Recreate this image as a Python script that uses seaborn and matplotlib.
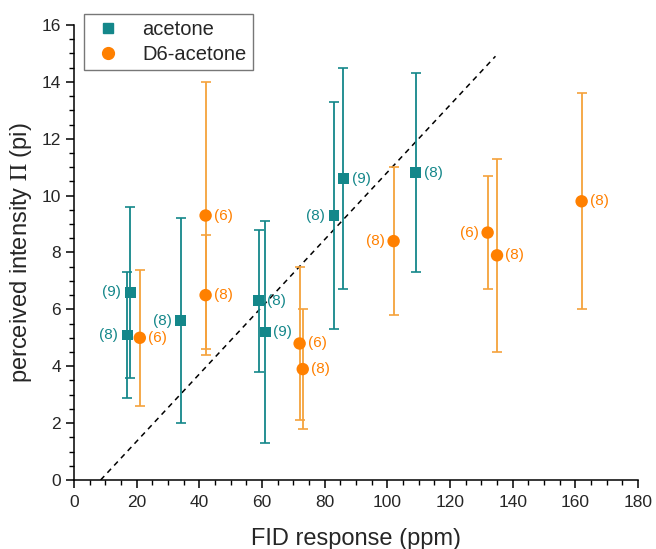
import matplotlib
matplotlib.use("Agg")
import matplotlib.pyplot as plt
from matplotlib.ticker import MultipleLocator
from matplotlib.lines import Line2D
import seaborn as sns
import pandas as pd

# ---- data ----
acetone_x = [17, 18, 34, 59, 61, 83, 86, 109]
acetone_y = [5.1, 6.6, 5.6, 6.3, 5.2, 9.3, 10.6, 10.8]
acetone_lo = [2.9, 3.6, 2.0, 3.8, 1.3, 5.3, 6.7, 7.3]
acetone_hi = [7.3, 9.6, 9.2, 8.8, 9.1, 13.3, 14.5, 14.3]
acetone_n = ["(8)", "(9)", "(8)", "(8)", "(9)", "(8)", "(9)", "(8)"]
acetone_side = ["L", "L", "L", "R", "R", "L", "R", "R"]

d6_x = [21, 42, 42, 72, 73, 102, 132, 135, 162]
d6_y = [5.0, 9.3, 6.5, 4.8, 3.9, 8.4, 8.7, 7.9, 9.8]
d6_lo = [2.6, 4.6, 4.4, 2.1, 1.8, 5.8, 6.7, 4.5, 6.0]
d6_hi = [7.4, 14.0, 8.6, 7.5, 6.0, 11.0, 10.7, 11.3, 13.6]
d6_n = ["(6)", "(6)", "(8)", "(6)", "(8)", "(8)", "(6)", "(8)", "(8)"]
d6_side = ["R", "R", "R", "R", "R", "L", "L", "R", "R"]

line_x = [8.5, 134.5]
line_y = [0.0, 14.9]

series_names = ["acetone", "D6-acetone"]

TEAL = "#14878A"
ORANGE = "#FF8000"
ORANGE_BAR = "#F5A23C"

sns.set_theme(style="ticks")
plt.rcParams["font.family"] = ["Liberation Sans", "DejaVu Sans"]
plt.rcParams["mathtext.fontset"] = "stix"

df = pd.DataFrame({
    "x": acetone_x + d6_x,
    "y": acetone_y + d6_y,
    "series": [series_names[0]] * len(acetone_x) + [series_names[1]] * len(d6_x),
})

fig = plt.figure(figsize=(6.56, 5.49), dpi=100)
ax = fig.add_axes([0.1128, 0.1257, 0.8598, 0.8288])

# dashed line
sns.lineplot(x=line_x, y=line_y, ax=ax, color="black", linestyle=(0, (3.5, 3)), linewidth=1.1)

# error bars
ax.errorbar(acetone_x, acetone_y,
            yerr=[[y - l for y, l in zip(acetone_y, acetone_lo)],
                  [h - y for y, h in zip(acetone_y, acetone_hi)]],
            fmt="none", ecolor=TEAL, elinewidth=1.3, capsize=3.5, capthick=1.2, zorder=2)
ax.errorbar(d6_x, d6_y,
            yerr=[[y - l for y, l in zip(d6_y, d6_lo)],
                  [h - y for y, h in zip(d6_y, d6_hi)]],
            fmt="none", ecolor=ORANGE_BAR, elinewidth=1.3, capsize=3.5, capthick=1.2, zorder=2)

sns.scatterplot(data=df, x="x", y="y", hue="series", style="series", size="series",
                palette={series_names[0]: TEAL, series_names[1]: ORANGE},
                markers={series_names[0]: "s", series_names[1]: "o"},
                sizes={series_names[0]: 60, series_names[1]: 80},
                linewidth=0, ax=ax, zorder=3, legend=False)

# n labels
for xs, ys, ns, sides, col in [(acetone_x, acetone_y, acetone_n, acetone_side, TEAL),
                               (d6_x, d6_y, d6_n, d6_side, ORANGE)]:
    for x, y, n, s in zip(xs, ys, ns, sides):
        if s == "R":
            ax.annotate(n, (x, y), xytext=(6, 0), textcoords="offset points",
                        ha="left", va="center", fontsize=11, color=col)
        else:
            ax.annotate(n, (x, y), xytext=(-6.5, 0), textcoords="offset points",
                        ha="right", va="center", fontsize=11, color=col)

ax.set_xlim(0, 180)
ax.set_ylim(0, 16)
ax.xaxis.set_major_locator(MultipleLocator(20))
ax.xaxis.set_minor_locator(MultipleLocator(5))
ax.yaxis.set_major_locator(MultipleLocator(2))
ax.yaxis.set_minor_locator(MultipleLocator(0.5))
ax.tick_params(which="major", direction="out", length=6, width=1.1, labelsize=12.5, color="black")
ax.tick_params(which="minor", direction="out", length=3.5, width=1.0, color="black")
ax.tick_params(axis="x", which="major", pad=4.5)
for sp in ["top", "right"]:
    ax.spines[sp].set_visible(False)
for sp in ["left", "bottom"]:
    ax.spines[sp].set_color("black")
    ax.spines[sp].set_linewidth(1.1)

ax.set_xlabel("FID response (ppm)", fontsize=17, labelpad=13)
ax.set_ylabel(r"perceived intensity $\Pi$ (pi)", fontsize=17, labelpad=5)

handles = [Line2D([], [], marker="s", color=TEAL, linestyle="none", markersize=7.5),
           Line2D([], [], marker="o", color=ORANGE, linestyle="none", markersize=8.5)]
leg = fig.legend(handles, series_names, loc="upper left",
                 bbox_to_anchor=(84 / 656, 1 - 14 / 549), fontsize=14.5,
                 frameon=True, fancybox=False, handletextpad=0.8,
                 borderpad=0.3, labelspacing=0.3, handlelength=1.8, borderaxespad=0)
leg.get_frame().set_edgecolor("#555555")
leg.get_frame().set_linewidth(1.0)

fig.savefig("out.png", dpi=100)
